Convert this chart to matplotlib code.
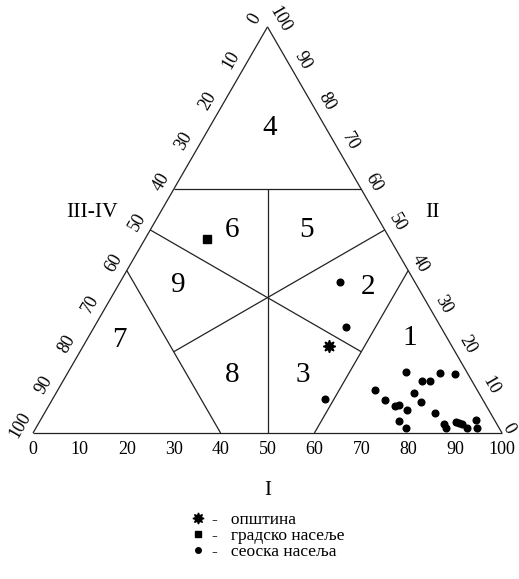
import numpy as np
import matplotlib
matplotlib.use("Agg")
import matplotlib.pyplot as plt
from matplotlib.lines import Line2D

plt.rcParams['font.family'] = ['Liberation Serif', 'DejaVu Serif']

# Data: components I and II in %, III-IV = 100 - I - II
village_I = [46.9, 53.7, 58.1, 72.0, 67.6, 71.0, 73.8, 74.6, 76.9, 76.5, 78.9,
             76.5, 78.2, 76.3, 78.9, 79.4, 82.7, 83.3, 86.5, 87.5, 88.8, 89.6,
             90.4, 91.9, 92.9, 94.1]
village_II = [37.2, 26.1, 8.4, 15.0, 10.6, 8.1, 6.7, 6.9, 5.7, 3.0, 1.2,
              12.8, 12.8, 9.9, 7.6, 14.8, 14.5, 4.9, 2.2, 1.2, 2.7, 2.5,
              2.2, 1.2, 3.2, 1.2]
town_I = [13.2]
town_II = [47.8]
municipality_I = [52.4]
municipality_II = [21.4]

ticks = list(range(0, 101, 10))
region_names = ['1', '2', '3', '4', '5', '6', '7', '8', '9']
region_I = [68.7, 53.4, 50.3, 13.0, 33.4, 17.4, 7.0, 35.3, 12.7]
region_II = [23.4, 35.9, 14.3, 75.1, 50.0, 50.0, 22.9, 14.3, 36.4]

# boundary segments as (I, II) end points
segments = [
    ((0, 0), (100, 0)), ((100, 0), (0, 100)), ((0, 100), (0, 0)),
    ((0, 60), (40, 60)),
    ((50, 0), (20, 60)),
    ((20, 20), (50, 50)),
    ((60, 20), (0, 50)),
    ((0, 40), (40, 0)),
    ((60, 0), (60, 40)),
]

H = np.sqrt(3) / 2


def tern(I, II):
    I = np.asarray(I, dtype=float)
    II = np.asarray(II, dtype=float)
    return I / 100 + II / 200, II / 100 * H


fig = plt.figure(figsize=(5.19, 5.79), dpi=100)
ax = fig.add_axes([0, 0, 1, 1])
ax.set_xlim(-33 / 469, 486 / 469)
ax.set_ylim(-146 / 469, 433 / 469)
ax.axis('off')

for a, b in segments:
    x, y = tern([a[0], b[0]], [a[1], b[1]])
    ax.plot(x, y, color='#222222', lw=0.9, solid_capstyle='butt')

# tick labels
fs = 13
for t in ticks:
    # bottom axis I
    x, y = tern(t, 0)
    ax.text(x, y - 0.035, str(t), ha='center', va='center', fontsize=fs)
    # left axis III-IV (value 100 - II on left edge)
    x, y = tern(0, 100 - t)
    ax.text(x - 0.866 * 0.032, y + 0.5 * 0.032, str(t), ha='center', va='center',
            rotation=60, fontsize=fs)
    # right axis II
    d = 0.030 if t > 0 else 0.017
    x, y = tern(100 - t, t)
    ax.text(x + 0.866 * d, y + 0.5 * d, str(t), ha='center', va='center',
            rotation=-60, fontsize=fs)

ax.text(0.125, 0.47, 'III-IV', ha='center', va='center', fontsize=15.5)
ax.text(0.851, 0.47, 'II', ha='center', va='center', fontsize=15.5)
ax.text(0.5, -0.122, 'I', ha='center', va='center', fontsize=15)

for name, I, II in zip(region_names, region_I, region_II):
    x, y = tern(I, II)
    ax.text(x, y, name, ha='center', va='center', fontsize=21)

x, y = tern(village_I, village_II)
ax.plot(x, y, 'o', color='black', ms=4.8, ls='none')
x, y = tern(town_I, town_II)
ax.plot(x, y, 's', color='black', ms=5.5, ls='none')
x, y = tern(municipality_I, municipality_II)
ax.plot(x, y, marker=(8, 1, 0), color='black', ms=9, ls='none')

handles = [
    Line2D([], [], marker=(8, 1, 0), color='black', ms=8, ls='none'),
    Line2D([], [], marker='s', color='black', ms=5, ls='none'),
    Line2D([], [], marker='o', color='black', ms=4, ls='none'),
]
labels = ['-   општина', '-   градско насеље', '-   сеоска насеља']
leg = ax.legend(handles, labels, loc='upper left', frameon=False,
                bbox_to_anchor=(193 / 519, 1 - 512 / 579), fontsize=12.5,
                handlelength=0.6, handletextpad=0.5, labelspacing=0.0,
                borderpad=0, borderaxespad=0)

fig.savefig('out.png', dpi=100, facecolor='white')
